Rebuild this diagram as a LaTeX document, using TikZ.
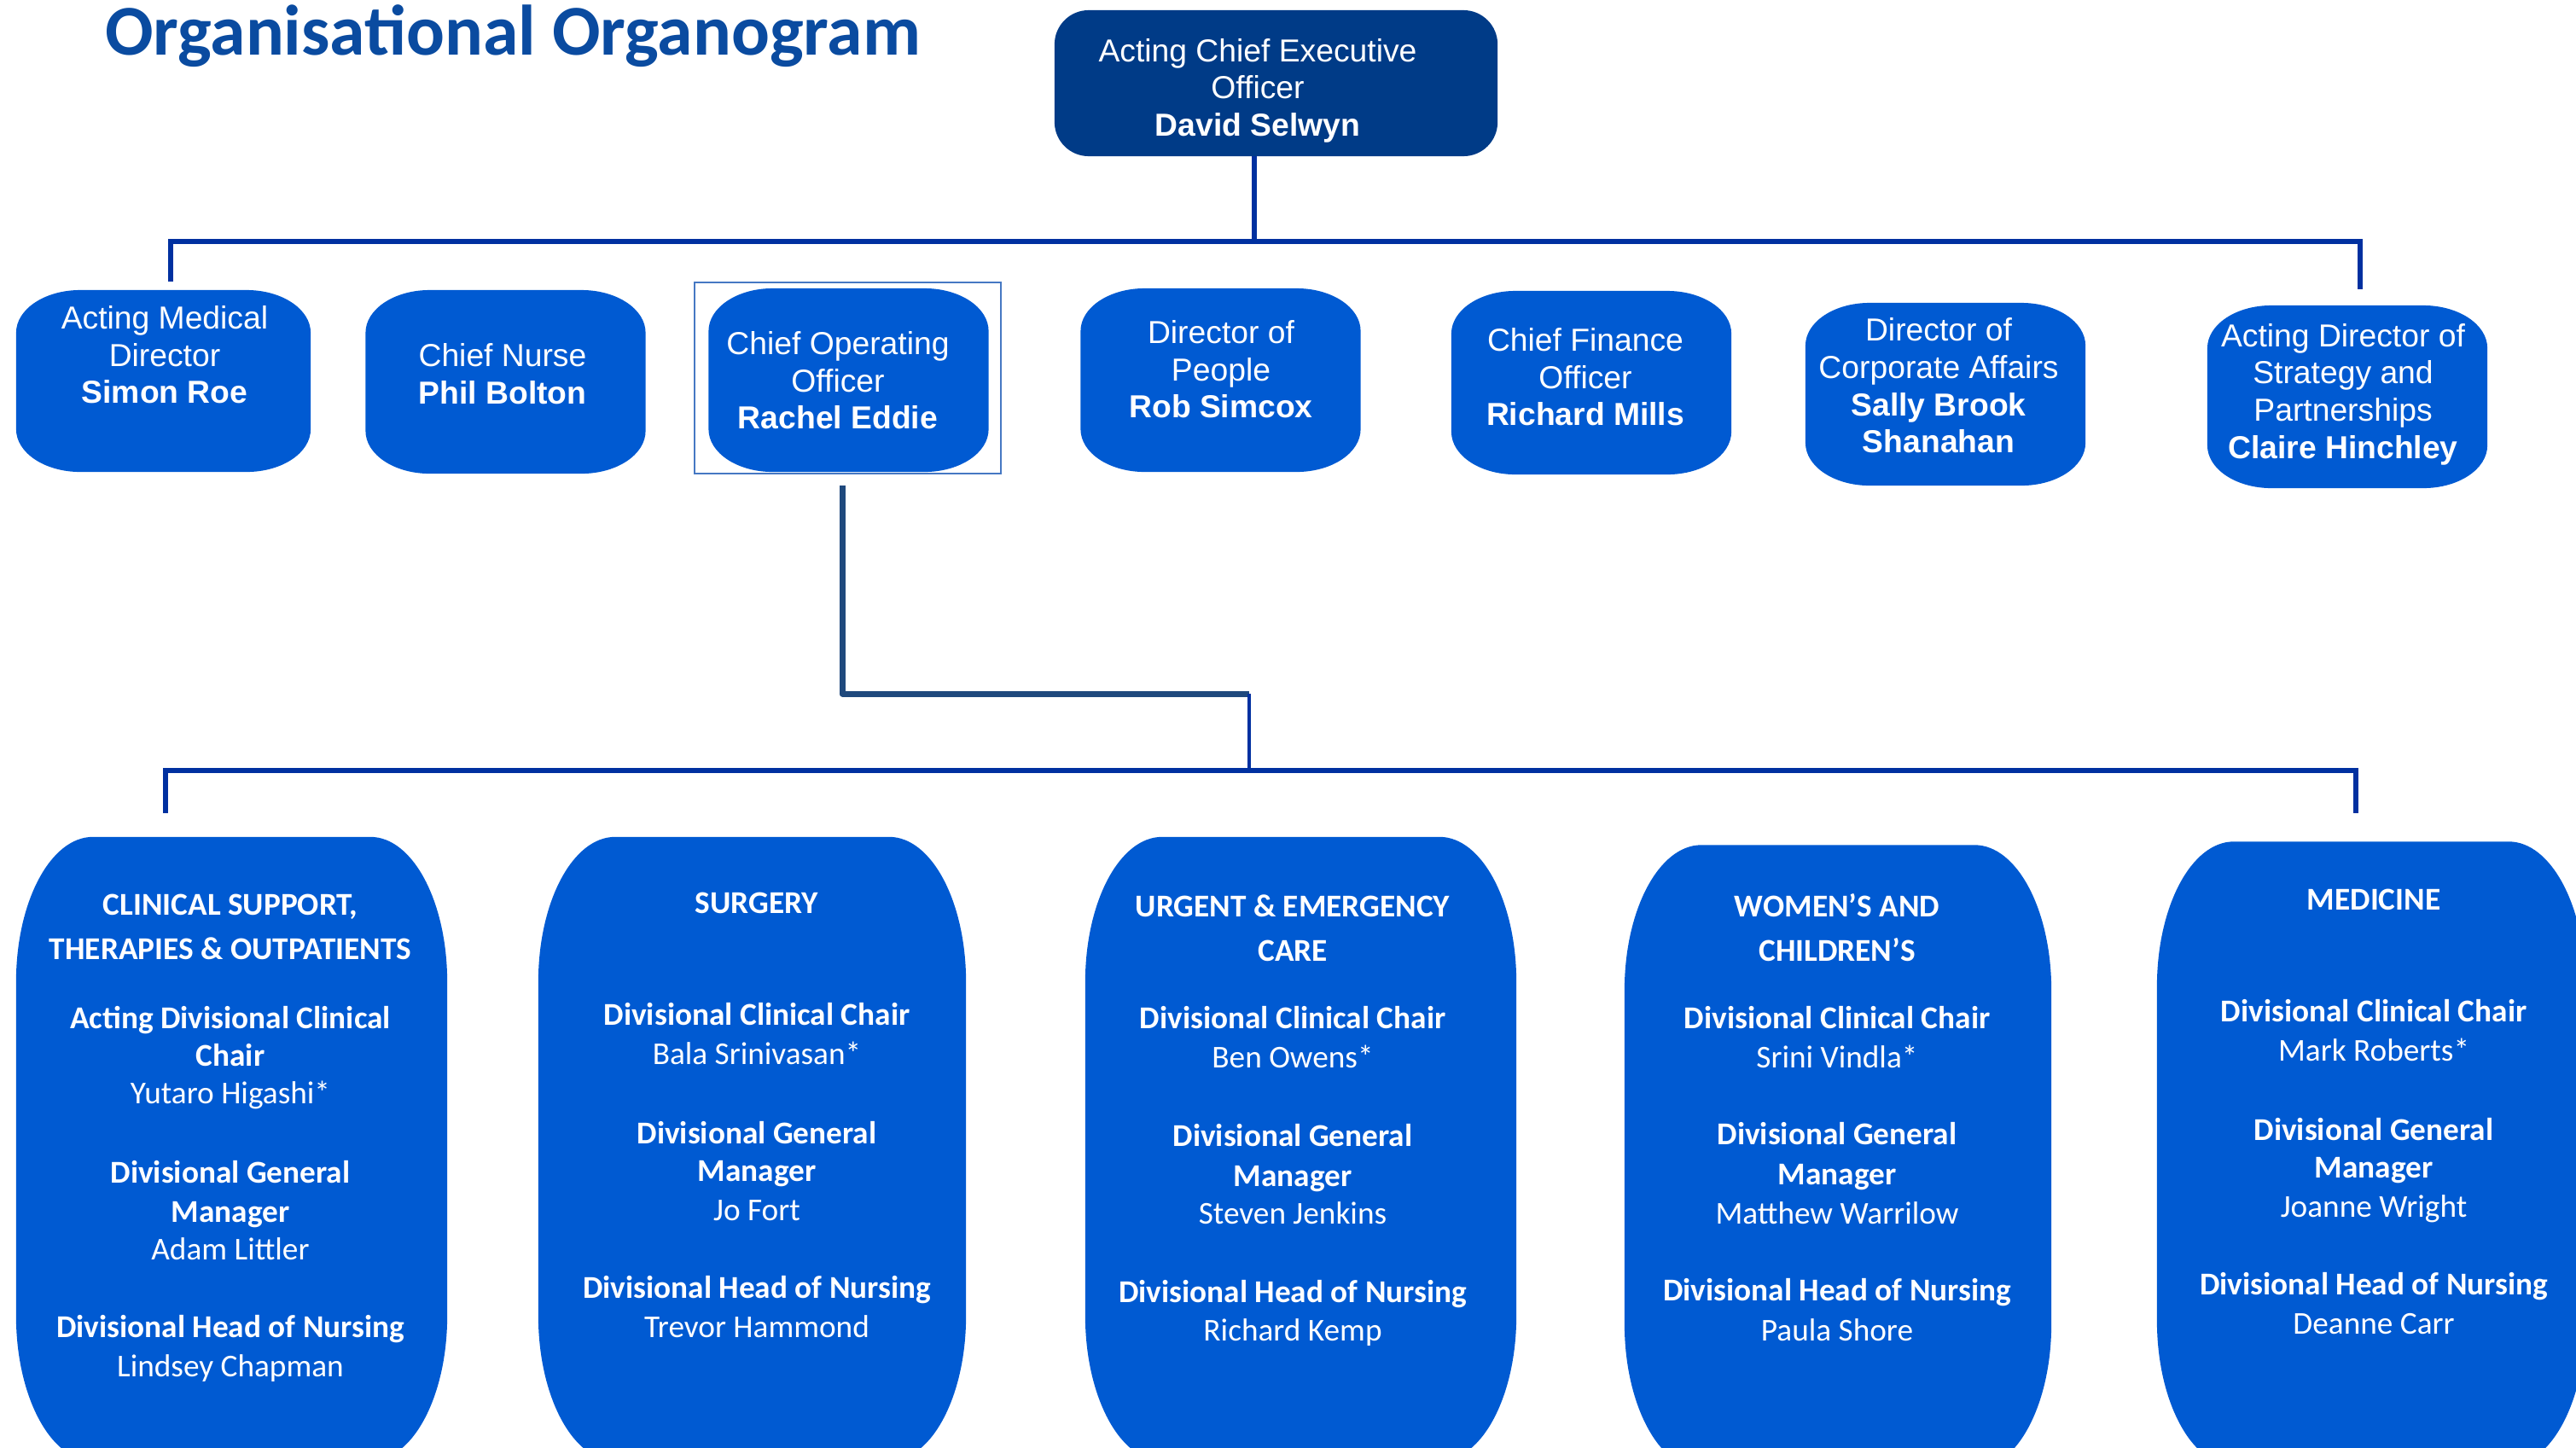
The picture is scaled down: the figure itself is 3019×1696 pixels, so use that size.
\documentclass[tikz,border=0pt]{standalone}
\usepackage{fontspec}
\setmainfont{Liberation Sans}
\newfontfamily\calfont{Carlito}
\usetikzlibrary{calc}
\definecolor{boxblue}{RGB}{0,90,210}
\definecolor{ceoblue}{RGB}{0,59,135}
\definecolor{linkblue}{RGB}{0,48,160}
\definecolor{darklink}{RGB}{31,73,125}
\definecolor{titleblue}{RGB}{10,75,160}
\definecolor{framecol}{RGB}{70,120,195}
% filled box with elliptical corners around a named node
\newcommand{\softbox}[4]{%
  \fill[#4] ($(#1.north west)+(#2,0)$) -- ($(#1.north east)+(-#2,0)$)
    arc[start angle=90,end angle=0,x radius=#2,y radius=#3]
    -- ($(#1.south east)+(0,#3)$)
    arc[start angle=0,end angle=-90,x radius=#2,y radius=#3]
    -- ($(#1.south west)+(#2,0)$)
    arc[start angle=270,end angle=180,x radius=#2,y radius=#3]
    -- ($(#1.north west)+(0,-#3)$)
    arc[start angle=180,end angle=90,x radius=#2,y radius=#3] -- cycle;}
\newcommand{\divtext}[3]{%
  \foreach \yy/\dtxt [count=\i] in {#3} {\node[divtxt] (#1-\i) at (#2,-\yy) {\dtxt};}}
\begin{document}
\begin{tikzpicture}[x=0.01cm,y=0.01cm,
  area/.style={inner sep=0pt, outer sep=0pt, draw=none},
  topbox/.style={area, minimum width=3.28cm, minimum height=2.15cm},
  divbox/.style={area, minimum width=5.03cm, minimum height=7.31cm},
  toptxt/.style={text=white, align=center, inner sep=0pt, font=\fontsize{10.6}{12.4}\selectfont},
  divtxt/.style={text=white, anchor=base, inner sep=0pt, font=\calfont\fontsize{10.6}{12.8}\selectfont},
  bus/.style={draw=linkblue, line width=1.7pt},
  coolink/.style={draw=darklink, line width=2pt},
]
\useasboundingbox (0,0) rectangle (3019,-1696);
\clip (0,0) rectangle (3019,-1696);

% title
\node[anchor=base, inner sep=0pt, text=titleblue, font=\calfont\bfseries\fontsize{23.8}{28}\selectfont] (title) at (601,-64) {Organisational Organogram};

% CEO
\node[area, minimum width=5.19cm, minimum height=1.71cm] (ceo) at (1495.5,-97.5) {};
\softbox{ceo}{0.4cm}{0.4cm}{ceoblue}
\node[toptxt] (ceo-t) at (1474,-106) {Acting Chief Executive\\Officer\\\textbf{David Selwyn}};

% top row
\node[topbox, minimum width=3.45cm, minimum height=2.13cm] (t1) at (191.5,-446.5) {};
\node[topbox] (t2) at (592.5,-447.5) {};
\node[topbox] (t3) at (994.5,-445.5) {};
\node[topbox] (t4) at (1430.5,-445.5) {};
\node[topbox] (t5) at (1865,-448.5) {};
\node[topbox, minimum height=2.14cm] (t6) at (2280,-462) {};
\node[topbox, minimum height=2.14cm] (t7) at (2751,-465) {};
\foreach \n in {t1,t2,t3,t4,t5,t6,t7} {\softbox{\n}{0.75cm}{0.5cm}{boxblue}}
\node[area, draw=framecol, line width=0.6pt, minimum width=3.59cm, minimum height=2.24cm] (t3frame) at (993.5,-443) {};

\node[toptxt] (t1-t) at (193,-416) {Acting Medical\\Director\\\textbf{Simon Roe}};
\node[toptxt] (t2-t) at (589,-438) {Chief Nurse\\\textbf{Phil Bolton}};
\node[toptxt] (t3-t) at (982,-446) {Chief Operating\\Officer\\\textbf{Rachel Eddie}};
\node[toptxt] (t4-t) at (1431,-433) {Director of\\People\\\textbf{Rob Simcox}};
\node[toptxt] (t5-t) at (1858,-442) {Chief Finance\\Officer\\\textbf{Richard Mills}};
\node[toptxt] (t6-t) at (2272,-452) {Director of\\Corporate Affairs\\\textbf{Sally Brook}\\\textbf{Shanahan}};
\node[toptxt] (t7-t) at (2746,-462) {Acting Director of\\Strategy and\\Partnerships\\\textbf{Claire Hinchley}};

% divisions
\node[divbox, minimum width=5.05cm] (d1) at (271.5,-1346.5) {};
\node[divbox, minimum width=5.01cm] (d2) at (881.5,-1346.5) {};
\node[divbox, minimum width=5.05cm] (d3) at (1524.5,-1346.5) {};
\node[divbox, minimum width=5.00cm] (d4) at (2154,-1356) {};
\node[divbox, minimum width=5.02cm] (d5) at (2779,-1352) {};
\foreach \n in {d1,d2,d3,d4,d5} {\softbox{\n}{0.9cm}{1.7cm}{boxblue}}

\divtext{d1t}{270}{1072/{\bfseries CLINICAL SUPPORT,}, 1124/{\bfseries THERAPIES \& OUTPATIENTS},
  1205/{\bfseries Acting Divisional Clinical}, 1249/{\bfseries Chair}, 1293/{Yutaro Higashi*},
  1386/{\bfseries Divisional General}, 1432/{\bfseries Manager}, 1476/{Adam Littler},
  1567/{\bfseries Divisional Head of Nursing}, 1613/{Lindsey Chapman}}
\divtext{d2t}{887}{1070/{\bfseries SURGERY},
  1201/{\bfseries Divisional Clinical Chair}, 1247/{Bala Srinivasan*},
  1340/{\bfseries Divisional General}, 1384/{\bfseries Manager}, 1430/{Jo Fort},
  1521/{\bfseries Divisional Head of Nursing}, 1567/{Trevor Hammond}}
\divtext{d3t}{1515}{1074/{\bfseries URGENT \& EMERGENCY}, 1126/{\bfseries CARE},
  1205/{\bfseries Divisional Clinical Chair}, 1251/{Ben Owens*},
  1343/{\bfseries Divisional General}, 1390/{\bfseries Manager}, 1434/{Steven Jenkins},
  1526/{\bfseries Divisional Head of Nursing}, 1571/{Richard Kemp}}
\divtext{d4t}{2153}{1074/{\bfseries WOMEN’S AND}, 1126/{\bfseries CHILDREN’S},
  1205/{\bfseries Divisional Clinical Chair}, 1251/{Srini Vindla*},
  1341/{\bfseries Divisional General}, 1388/{\bfseries Manager}, 1434/{Matthew Warrilow},
  1524/{\bfseries Divisional Head of Nursing}, 1571/{Paula Shore}}
\divtext{d5t}{2782}{1066/{\bfseries MEDICINE},
  1197/{\bfseries Divisional Clinical Chair}, 1243/{Mark Roberts*},
  1336/{\bfseries Divisional General}, 1380/{\bfseries Manager}, 1426/{Joanne Wright},
  1517/{\bfseries Divisional Head of Nursing}, 1563/{Deanne Carr}}

% connectors: top
\coordinate (ceo-d) at (1470,-283);
\coordinate (tb-l) at (200,-283);
\coordinate (tb-r) at (2766,-283);
\coordinate (t1-in) at (200,-330);
\coordinate (t7-in) at (2766,-339);
\draw[bus] (ceo.south -| ceo-d) -- (ceo-d);
\draw[bus] (t1-in) -- (tb-l) -- (tb-r) -- (t7-in);

% connectors: COO to divisions
\coordinate (coo-out) at (987,-569);
\coordinate (coo-bend) at (987,-813);
\coordinate (mid-top) at (1464,-813);
\coordinate (lb-m) at (1464,-903);
\coordinate (lb-l) at (194,-903);
\coordinate (lb-r) at (2761,-903);
\coordinate (d1-in) at (194,-953);
\coordinate (d5-in) at (2761,-953);
\draw[coolink, line join=round] (coo-out) -- (coo-bend) -- (mid-top);
\draw[bus, line width=1.4pt] (mid-top) -- (lb-m);
\draw[bus] (d1-in) -- (lb-l) -- (lb-r) -- (d5-in);
\end{tikzpicture}
\end{document}
